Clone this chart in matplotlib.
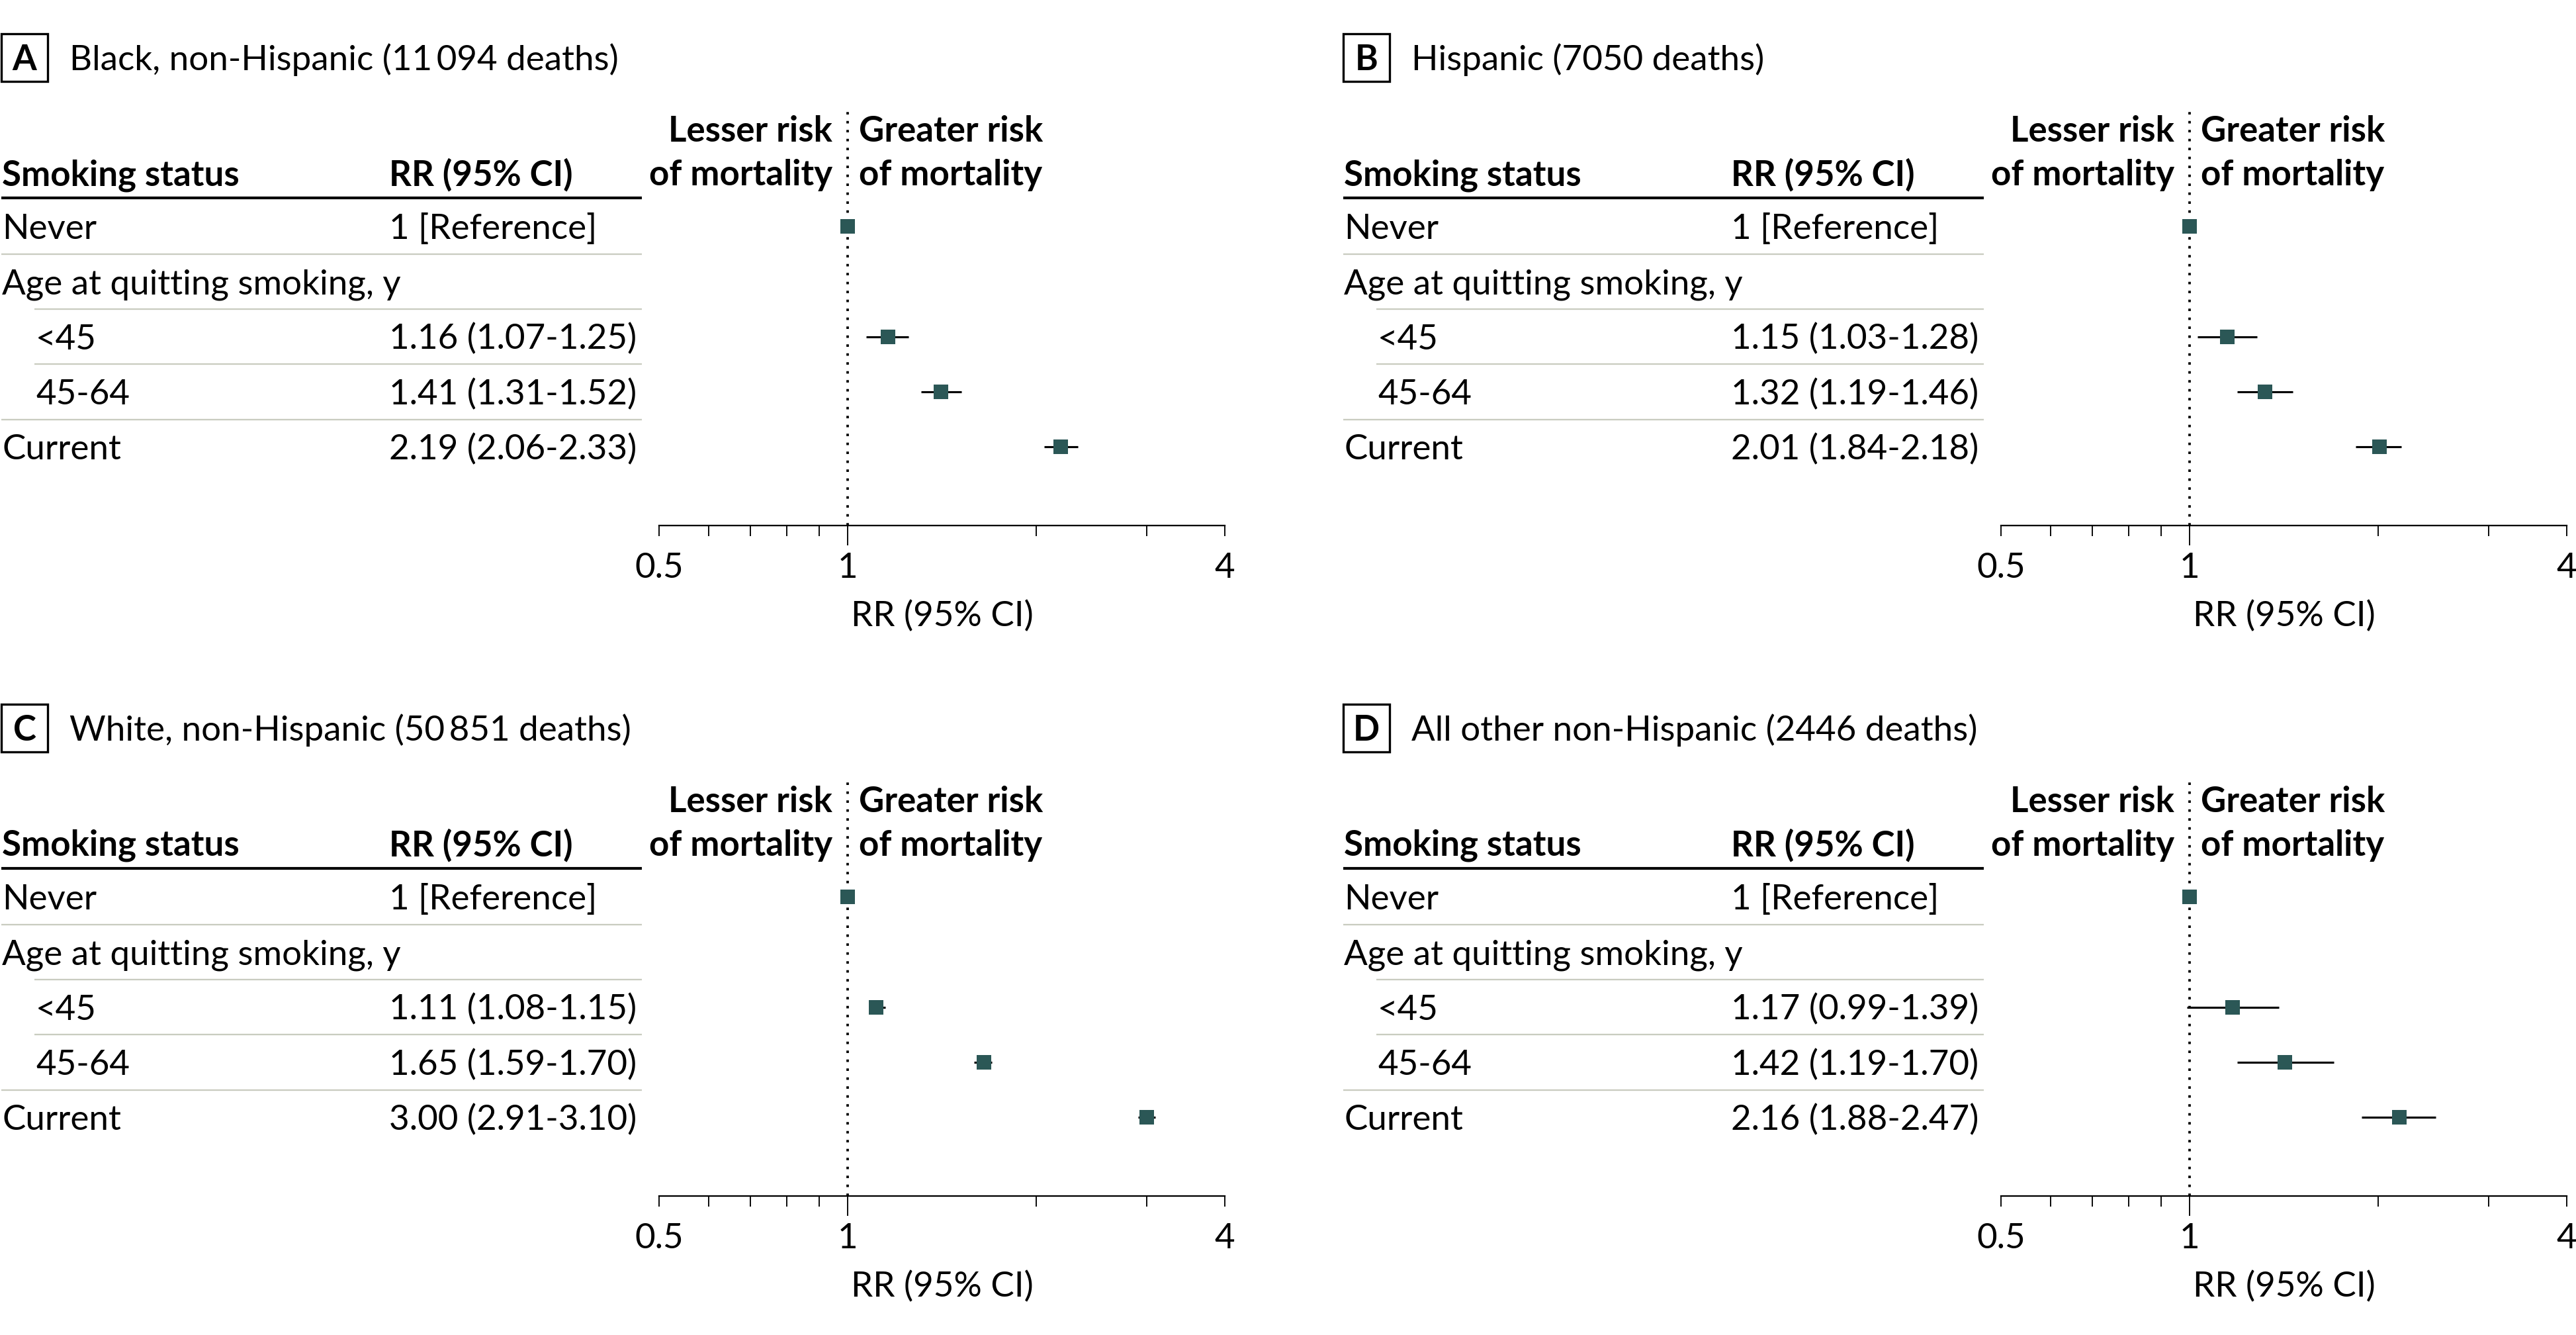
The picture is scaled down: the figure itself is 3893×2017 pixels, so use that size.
import matplotlib
matplotlib.use("Agg")
import matplotlib.pyplot as plt
from matplotlib.patches import Rectangle
from matplotlib.ticker import NullFormatter

plt.rcParams['font.family'] = ['Lato', 'DejaVu Sans']

# ---------------- data ----------------
row_labels = ['Never', 'Age at quitting smoking, y', '<45', '45-64', 'Current']
row_indent = [False, False, True, True, False]
panel_letters = ['A', 'B', 'C', 'D']
panel_titles = ['Black, non-Hispanic (11\u2009094 deaths)',
                'Hispanic (7050 deaths)',
                'White, non-Hispanic (50\u2009851 deaths)',
                'All other non-Hispanic (2446 deaths)']

# rows with estimates: Never, <45, 45-64, Current
est_rows = [0, 2, 3, 4]
rr_black = [1.00, 1.16, 1.41, 2.19]
lo_black = [None, 1.07, 1.31, 2.06]
hi_black = [None, 1.25, 1.52, 2.33]

rr_hisp = [1.00, 1.15, 1.32, 2.01]
lo_hisp = [None, 1.03, 1.19, 1.84]
hi_hisp = [None, 1.28, 1.46, 2.18]

rr_white = [1.00, 1.11, 1.65, 3.00]
lo_white = [None, 1.08, 1.59, 2.91]
hi_white = [None, 1.15, 1.70, 3.10]

rr_other = [1.00, 1.17, 1.42, 2.16]
lo_other = [None, 0.99, 1.19, 1.88]
hi_other = [None, 1.39, 1.70, 2.47]

panel_rr = [rr_black, rr_hisp, rr_white, rr_other]
panel_lo = [lo_black, lo_hisp, lo_white, lo_other]
panel_hi = [hi_black, hi_hisp, hi_white, hi_other]

major_ticks = [0.5, 1, 4]
major_labels = ['0.5', '1', '4']
minor_ticks = [0.6, 0.7, 0.8, 0.9, 2, 3]

# ---------------- layout (pixels) ----------------
W, H = 3893, 2017
FS = 12.7
MARK = '#2b5756'
RULE = '#c9ccc0'

fig = plt.figure(figsize=(W / 300, H / 300), dpi=300)
ov = fig.add_axes([0, 0, 1, 1])
ov.set_xlim(0, W)
ov.set_ylim(H, 0)
ov.axis('off')

offsets = [(0, 0), (2028, 0), (0, 1013), (2028, 1013)]
pitch = 83.3
row0_center = 342
ax_top, ax_bot = 169, 794
ax_left, ax_right = 996, 1851

for p in range(4):
    dx, dy = offsets[p]
    # panel letter box and title
    ov.add_patch(Rectangle((dx + 2, dy + 51), 70, 72, fill=False, lw=0.8, ec='black'))
    ov.text(dx + 37, dy + 106, panel_letters[p], ha='center', va='baseline',
            fontsize=FS, fontweight='bold')
    ov.text(dx + 105, dy + 106, panel_titles[p], ha='left', va='baseline', fontsize=FS)

    # table header
    ov.text(dx + 3, dy + 280, 'Smoking status', ha='left', va='baseline',
            fontsize=FS, fontweight='bold')
    ov.text(dx + 588, dy + 280, 'RR (95% CI)', ha='left', va='baseline',
            fontsize=FS, fontweight='bold')
    ov.plot([dx + 2, dx + 970], [dy + 299, dy + 299], color='black', lw=1.0,
            solid_capstyle='butt')

    # header over forest
    ov.text(dx + 1258, dy + 214, 'Lesser risk', ha='right', va='baseline',
            fontsize=FS, fontweight='bold')
    ov.text(dx + 1258, dy + 280, 'of mortality', ha='right', va='baseline',
            fontsize=FS, fontweight='bold')
    ov.text(dx + 1298, dy + 214, 'Greater risk', ha='left', va='baseline',
            fontsize=FS, fontweight='bold')
    ov.text(dx + 1298, dy + 280, 'of mortality', ha='left', va='baseline',
            fontsize=FS, fontweight='bold')

    rr, lo, hi = panel_rr[p], panel_lo[p], panel_hi[p]
    values = {}
    for k, r in enumerate(est_rows):
        if lo[k] is None:
            values[r] = '1 [Reference]'
        else:
            values[r] = f'{rr[k]:.2f} ({lo[k]:.2f}-{hi[k]:.2f})'

    for i, lab in enumerate(row_labels):
        base = dy + row0_center + pitch * i + 19
        x0 = dx + (54 if row_indent[i] else 3)
        ov.text(x0, base, lab, ha='left', va='baseline', fontsize=FS)
        if i in values:
            ov.text(dx + 588, base, values[i], ha='left', va='baseline', fontsize=FS)
        if i < len(row_labels) - 1:
            ly = dy + row0_center + pitch * (i + 0.5)
            lx = dx + (52 if row_indent[i + 1] else 2)
            ov.plot([lx, dx + 970], [ly, ly], color=RULE, lw=0.55, solid_capstyle='butt')

    # forest axes
    ax = fig.add_axes([(dx + ax_left) / W, 1 - (dy + ax_bot) / H,
                       (ax_right - ax_left) / W, (ax_bot - ax_top) / H])
    ax.set_facecolor('none')
    ax.set_xscale('log', base=2)
    ax.set_xlim(0.5, 4)
    top_idx = (ax_top - row0_center) / pitch
    bot_idx = (ax_bot - row0_center) / pitch
    ax.set_ylim(bot_idx, top_idx)
    for s in ['top', 'right', 'left']:
        ax.spines[s].set_visible(False)
    ax.spines['bottom'].set_linewidth(0.55)
    ax.set_yticks([])
    ax.axvline(1, color='black', lw=0.9, dashes=(1.0, 2.6), zorder=1)

    for k, r in enumerate(est_rows):
        if lo[k] is not None:
            ax.hlines(r, lo[k], hi[k], color='black', lw=0.75, zorder=2)
        ax.plot([rr[k]], [r], marker='s', ms=5.2, color=MARK, mec=MARK, mew=0,
                zorder=3, clip_on=False)

    ax.set_xticks(major_ticks)
    ax.set_xticklabels(major_labels)
    ax.set_xticks(minor_ticks, minor=True)
    ax.xaxis.set_minor_formatter(NullFormatter())
    ax.tick_params(axis='x', which='both', direction='out', length=3.8, width=0.45,
                   labelsize=FS, pad=6)
    ax.xaxis.get_major_ticks()[1].tick1line.set_markersize(7.2)
    ax.set_xlabel('RR (95% CI)', fontsize=FS, labelpad=6)

fig.savefig('out.png', dpi=300, facecolor='white')
